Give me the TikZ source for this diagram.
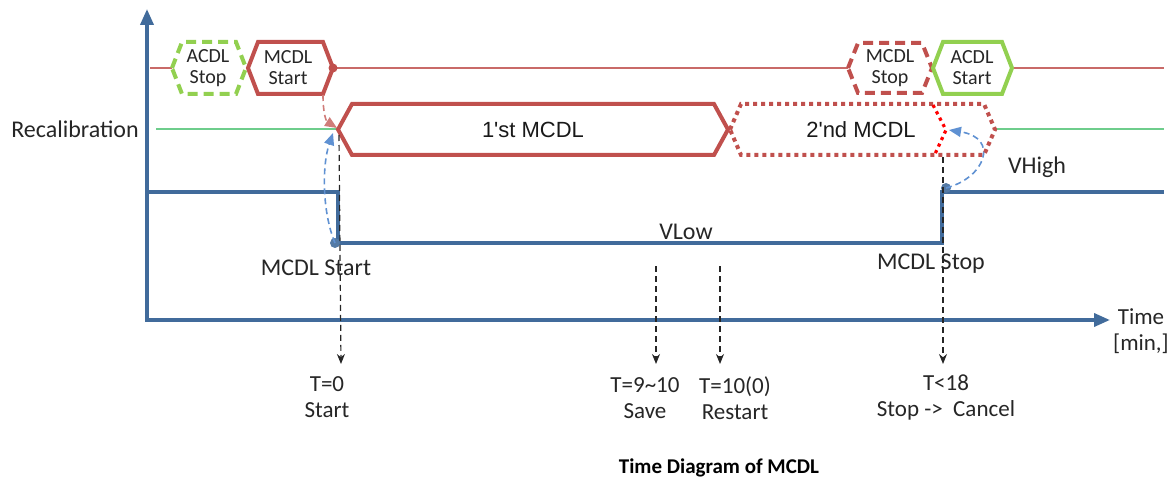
\documentclass[tikz,border=0pt]{standalone}
\usepackage{fontspec}
\setmainfont{Carlito}
\newfontfamily\arialf{Liberation Sans}
\usetikzlibrary{arrows.meta}
\definecolor{axblue}{RGB}{65,107,155}
\definecolor{hexred}{RGB}{192,80,77}
\definecolor{hexgreen}{RGB}{146,208,80}
\definecolor{recgreen}{RGB}{110,205,140}
\definecolor{arrblue}{RGB}{95,145,210}
\definecolor{brightred}{RGB}{255,0,0}
\newcommand\hexa[6]{%
  \draw[#1] (#2,{(#4+#5)/2}) -- ({#2+#6},#4) -- ({#3-#6},#4) -- (#3,{(#4+#5)/2}) -- ({#3-#6},#5) -- ({#2+#6},#5) -- cycle;}
\begin{document}
\begin{tikzpicture}[x=0.5pt,y=-0.5pt,
  axisline/.style={axblue, line width=1.8pt},
  sigline/.style={axblue, line width=2pt},
  hexsolidred/.style={hexred, line width=2pt, line join=miter},
  hexdashred/.style={hexred, line width=2pt, dash pattern=on 5pt off 3pt},
  hexdotred/.style={hexred, line width=2pt, dash pattern=on 2pt off 2pt},
  hexsolidgreen/.style={hexgreen, line width=2pt, line join=miter},
  hexdashgreen/.style={hexgreen, line width=2pt, dash pattern=on 5pt off 3pt},
  redline/.style={hexred!85, line width=0.8pt},
  greenline/.style={recgreen, line width=0.8pt},
  timearrow/.style={black!85, line width=0.6pt, dash pattern=on 3pt off 2pt, -{Stealth[length=5pt,width=4pt]}},
  lbl/.style={inner sep=0pt, font=\fontsize{12}{13}\selectfont, text=black!85},
  tlbl/.style={inner sep=0pt, align=center, font=\fontsize{11.5}{13}\selectfont, text=black!85},
  hexlbl/.style={inner sep=0pt, align=center, font=\fontsize{10}{10.5}\selectfont, text=black!85},
  biglbl/.style={inner sep=0pt, font=\arialf\fontsize{11}{13}\selectfont, text=black!90},
]
\useasboundingbox (0,0) rectangle (1174,481);

% signal lines
\draw[redline] (150,68) -- (172,68);
\draw[redline] (333,68) -- (848,68);
\draw[redline] (1012,68) -- (1164,68);
\draw[greenline] (156,129) -- (338,129);
\draw[greenline] (995,129) -- (1164,129);

% hexagons
\hexa{hexdashgreen}{172}{246}{42}{94}{10}
\hexa{hexsolidred}{248}{333}{42}{94}{10}
\hexa{hexdashred}{848}{932}{43}{93}{10}
\hexa{hexsolidgreen}{933}{1012}{42}{94}{10}
\hexa{hexsolidred}{338}{728}{104}{155}{14}
\hexa{hexdotred}{730}{995}{104}{155}{11}
\draw[brightred, line width=1.6pt, dash pattern=on 1.6pt off 2pt] (933,105) -- (946,130) -- (935,154);
\fill[hexred] (333,68) circle (4.5);

% hexagon labels
\node[hexlbl] (acdlstop) at (208,68) {ACDL\\Stop};
\node[hexlbl] (mcdlstarthex) at (288,68) {MCDL\\Start};
\node[hexlbl] (mcdlstophex) at (890,68) {MCDL\\Stop};
\node[hexlbl] (acdlstart) at (972,68) {ACDL\\Start};
\node[biglbl] (first) at (533,130) {1'st MCDL};
\node[biglbl] (second) at (861,130) {2'nd MCDL};
\node[lbl] (recal) at (75,129) {Recalibration};

% coordinates
\coordinate (mshb) at (323,95);
\coordinate (ftip) at (337,128);
\coordinate (dotL) at (335,243);
\coordinate (dotR) at (946,188);
\coordinate (stip) at (949,130);

% axes
\draw[axisline, {Triangle[length=8pt,width=6.5pt]}-{Triangle[length=8pt,width=6.5pt]}] (147,9) -- (147,320) -- (1110,320);

% blue signal
\draw[sigline, line join=miter] (147,192) -- (338,192) -- (338,243) -- (942,243) -- (942,192) -- (1164,192);
\fill[axblue!90!white] (dotL) circle (5);
\fill[axblue!90!white] (dotR) circle (5);

% curved dashed arrows
\draw[hexred!75, line width=0.8pt, dash pattern=on 3pt off 2pt, -{Triangle[length=6pt,width=5pt]}] (mshb) .. controls (323,113) and (326,121) .. (ftip);
\draw[arrblue, line width=0.8pt, dash pattern=on 3pt off 2pt, -{Triangle[length=6pt,width=5pt]}] (dotL) .. controls (322,212) and (322,165) .. (333,133);
\draw[arrblue, line width=0.8pt, dash pattern=on 3pt off 2pt, -{Triangle[length=6pt,width=5pt]}] (dotR) .. controls (985,178) and (1000,138) .. (stip);

% time arrows
\coordinate (a0) at (339,135);
\coordinate (a1) at (656,266);
\coordinate (a2) at (720,266);
\coordinate (a3) at (943,157);
\node[tlbl] (t0) at (327,397) {T=0\\Start};
\node[tlbl] (t1) at (645,398) {T=9\textasciitilde10\\Save};
\node[tlbl] (t2) at (735,398) {T=10(0)\\Restart};
\node[tlbl] (t3) at (946,397) {T<18\\Stop -> \ Cancel};
\draw[timearrow] (a0) -- (341,364);
\draw[timearrow] (a1) -- (656,364);
\draw[timearrow] (a2) -- (720,364);
\draw[timearrow] (a3) -- (943,364);

% other labels
\node[lbl] (mstart) at (316,268) {MCDL Start};
\node[lbl] (mstop) at (931,264) {MCDL Stop};
\node[lbl] (vlow) at (686,232) {VLow};
\node[lbl] (vhigh) at (1037,167) {VHigh};
\node[tlbl] (time) at (1141,331) {Time\\{[min,]}};
\node[inner sep=0pt, font=\bfseries\fontsize{10.5}{12}\selectfont] (caption) at (719,468) {Time Diagram of MCDL};
\end{tikzpicture}
\end{document}
